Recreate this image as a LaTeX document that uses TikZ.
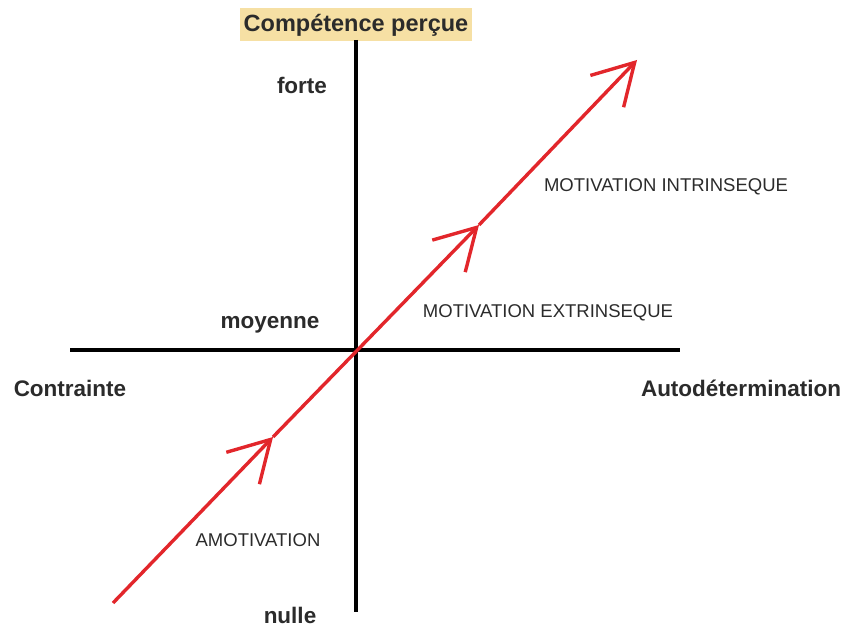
\documentclass[tikz,border=0pt]{standalone}
\usepackage{fontspec}
\setmainfont{Liberation Sans}
\usetikzlibrary{arrows.meta}
\definecolor{titlefill}{HTML}{F6E0A4}
\definecolor{motivred}{HTML}{E2262B}
\definecolor{labelgray}{HTML}{2B2B2B}
\begin{document}
\begin{tikzpicture}[x=1pt,y=-1pt,
  axis/.style = {line width = 3.6pt, black},
  motivline/.style = {line width = 3.4pt, motivred, -{Straight Barb[length=40pt,width=46pt]}},
  axislabel/.style = {font = \bfseries\fontsize{22.5}{26}\selectfont, text = labelgray, inner sep = 2pt},
  zonelabel/.style = {font = \fontsize{18.5}{22}\selectfont, text = labelgray, inner sep = 2pt}]
\useasboundingbox (0,0) rectangle (855,628);
% axes
\node[axislabel, font = \bfseries\fontsize{23.5}{27}\selectfont, fill = titlefill, minimum width = 232pt, minimum height = 33pt] (title) at (356,25) {Compétence perçue};
\coordinate (top) at (356,40);
\coordinate (bottom) at (356,612);
\coordinate (left) at (70,350);
\coordinate (right) at (680,350);
\draw[axis] (top) -- (bottom);
\draw[axis] (left) -- (right);
% axis labels
\node[axislabel] (forte) at (302,85) {forte};
\node[axislabel] (moyenne) at (270,325) {moyenne};
\node[axislabel] (nulle) at (290,615) {nulle};
\node[axislabel] (contrainte) at (70,388) {Contrainte};
\node[axislabel] (autodet) at (741,388) {Autodétermination};
% motivation line
\coordinate (p0) at (113,603);
\coordinate (p1) at (273,437);
\coordinate (p2) at (479,225);
\coordinate (p3) at (637,60);
\foreach \a/\b in {p0/p1,p1/p2,p2/p3} \draw[motivline] (\a) -- (\b);
% zones
\node[zonelabel] (amotiv) at (258,540) {AMOTIVATION};
\node[zonelabel] (extrin) at (548,313) {MOTIVATION EXTRINSEQUE};
\node[zonelabel] (intrin) at (666,187) {MOTIVATION INTRINSEQUE};
\end{tikzpicture}
\end{document}
